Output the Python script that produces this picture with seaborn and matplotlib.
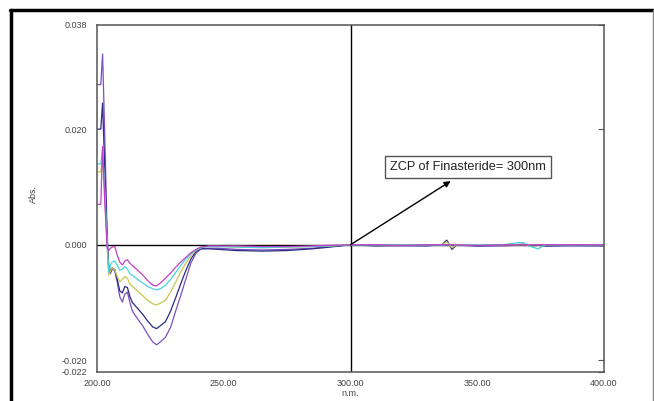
import numpy as np
import pandas as pd
import seaborn as sns
import matplotlib
matplotlib.use('Agg')
import matplotlib.pyplot as plt
from matplotlib.lines import Line2D

# comprimento de onda (nm)
wl = [200, 201.5, 202.2, 203, 204, 204.6, 205.3, 206, 207, 208, 209, 210, 211, 212, 213, 214,
      216, 218, 220, 222, 223.5, 225, 227, 229, 231, 233, 235, 237, 239, 241, 244, 248,
      255, 265, 275, 285, 292, 300, 310, 320, 330, 336, 338, 340, 342, 350, 360, 365,
      368, 371, 374, 377, 385, 400]

# absorbancia derivada (x 1e-3)
magenta = [7.0, 7.0, 17, 8, -0.5, -1.0, -0.6, -0.4, -0.3, -1.8, -3.0, -3.5, -2.8, -2.6, -3.2, -3.6,
           -4.4, -5.2, -6.2, -7.0, -7.1, -6.6, -5.8, -4.9, -3.9, -3.0, -2.2, -1.4, -0.8, -0.4, -0.2, -0.2,
           -0.2, -0.3, -0.3, -0.2, -0.1, 0.0,
           0, -0.1, 0, 0, 0, 0, 0, -0.1, 0, 0, 0, 0, 0, 0, 0, 0]
cyan = [14, 14, 16.5, 10, 0, -4.8, -3.5, -3.0, -2.8, -3.6, -4.4, -4.2, -3.8, -4.2, -5.0, -5.3,
        -6.0, -6.6, -7.2, -7.6, -7.8, -7.6, -7.0, -6.0, -4.8, -3.6, -2.5, -1.6, -0.9, -0.5, -0.3, -0.3,
        -0.4, -0.5, -0.4, -0.3, -0.2, 0.0,
        0, 0, 0, 0, 0, 0, 0, 0, 0, 0.3, 0.4, -0.3, -0.7, 0, 0, 0]
yellow = [12.6, 12.6, 15, 9, 0, -5.3, -4.5, -4.0, -4.4, -5.5, -6.4, -6.0, -5.5, -5.8, -6.8, -7.2,
          -8.0, -8.8, -9.6, -10.2, -10.4, -10.1, -9.6, -8.2, -6.5, -4.7, -3.2, -1.9, -1.0, -0.5, -0.3, -0.3,
          -0.4, -0.5, -0.4, -0.3, -0.2, 0.0,
          0, 0, 0, 0, 0.5, -0.5, 0, 0, 0, 0, 0, 0, 0, 0, 0, 0]
navy = [20, 20, 24.5, 14, 1, -3.5, -4.5, -4.0, -4.3, -6.0, -8.0, -8.3, -7.2, -7.4, -9.0, -10.0,
        -11.0, -12.0, -13.2, -14.2, -14.5, -14.0, -13.3, -11.5, -9.2, -6.8, -4.5, -2.5, -1.2, -0.7, -0.7, -0.8,
        -1.0, -1.1, -1.0, -0.7, -0.4, 0.0,
        -0.2, -0.1, -0.2, 0, 0.8, -0.8, 0, -0.2, -0.1, 0, 0.1, -0.2, -0.1, -0.2, -0.1, -0.2]
purple = [27.7, 27.7, 33, 20, 2, -4.0, -5.0, -4.2, -4.5, -6.5, -9.0, -9.9, -8.5, -8.2, -10.0, -11.5,
          -12.8, -14.0, -15.5, -16.8, -17.3, -16.8, -16.0, -14.3, -11.5, -8.8, -6.0, -3.2, -1.5, -0.7, -0.6, -0.6,
          -0.8, -0.9, -0.8, -0.6, -0.3, 0.0,
          -0.1, -0.2, -0.1, -0.1, 0, 0, -0.1, -0.2, -0.2, -0.1, 0, -0.1, 0, -0.2, -0.2, -0.1]

series_names = ['purple', 'navy', 'yellow', 'cyan', 'magenta']
series_vals = [purple, navy, yellow, cyan, magenta]
cores = {'purple': '#7d4fc0', 'navy': '#2b2a86', 'yellow': '#c9c64a',
         'cyan': '#45d6e0', 'magenta': '#c53fc8'}

xticks = [200, 250, 300, 350, 400]
xlabels = ['200.00', '250.00', '300.00', '350.00', '400.00']
yticks = [-0.022, -0.020, 0.000, 0.020, 0.038]
ylabels = ['-0.022', '-0.020', '0.000', '0.020', '0.038']

df = pd.concat([pd.DataFrame({'nm': wl, 'abs': np.array(v) / 1000.0, 'serie': n})
                for n, v in zip(series_names, series_vals)], ignore_index=True)

sns.set_style('white')
plt.rcParams['font.family'] = ['Liberation Sans', 'DejaVu Sans']

fig = plt.figure(figsize=(6.54, 4.01), dpi=100)
ax = fig.add_axes([97 / 654, 1 - 372 / 401, 507 / 654, 347 / 401])

sns.lineplot(data=df, x='nm', y='abs', hue='serie', palette=cores, estimator=None,
             sort=False, lw=0.9, legend=False, ax=ax)

# linhas de referencia
ax.axhline(0, color='black', lw=1, zorder=1)
ax.axvline(300, color='black', lw=1, zorder=1)

ax.set_xlim(200, 400)
ax.set_ylim(-0.022, 0.038)
ax.set_xticks(xticks)
ax.set_xticklabels(xlabels)
ax.set_yticks(yticks)
ax.set_yticklabels(ylabels)
ax.tick_params(axis='both', direction='in', length=4, width=0.8, color='#555555',
               labelsize=6.5, labelcolor='#444444')
ax.tick_params(axis='y', pad=7, right=True)
ax.tick_params(axis='x', pad=5)

for s in ax.spines.values():
    s.set_color('#555555')
    s.set_linewidth(1.1)

ax.set_xlabel('n.m.', fontsize=6.5, color='#444444')
ax.set_ylabel('Abs.', fontsize=6.5, color='#444444')
ax.xaxis.set_label_coords(0.5, -0.05)
ax.yaxis.set_label_coords(-0.117, 0.513)

# anotacao do ponto de cruzamento zero
ax.annotate('', xy=(339.5, 0.0110), xytext=(300, 0),
            arrowprops=dict(arrowstyle='-|>', color='black', lw=1,
                            shrinkA=0, shrinkB=0, mutation_scale=9))
ax.text(346.5, 0.0134, 'ZCP of Finasteride= 300nm', fontsize=9.2, color='#222222',
        ha='center', va='center',
        bbox=dict(boxstyle='square,pad=0.4', fc='white', ec='#555555', lw=1))

# moldura externa
fig.add_artist(Line2D([10 / 654, 653 / 654], [1 - 10 / 401, 1 - 10 / 401],
                      transform=fig.transFigure, color='black', lw=2.5))
fig.add_artist(Line2D([11 / 654, 11 / 654], [0, 1 - 10 / 401],
                      transform=fig.transFigure, color='black', lw=2.5))
fig.add_artist(Line2D([653 / 654, 653 / 654], [0, 1 - 10 / 401],
                      transform=fig.transFigure, color='#888888', lw=1))

fig.savefig('out.png', dpi=100)
